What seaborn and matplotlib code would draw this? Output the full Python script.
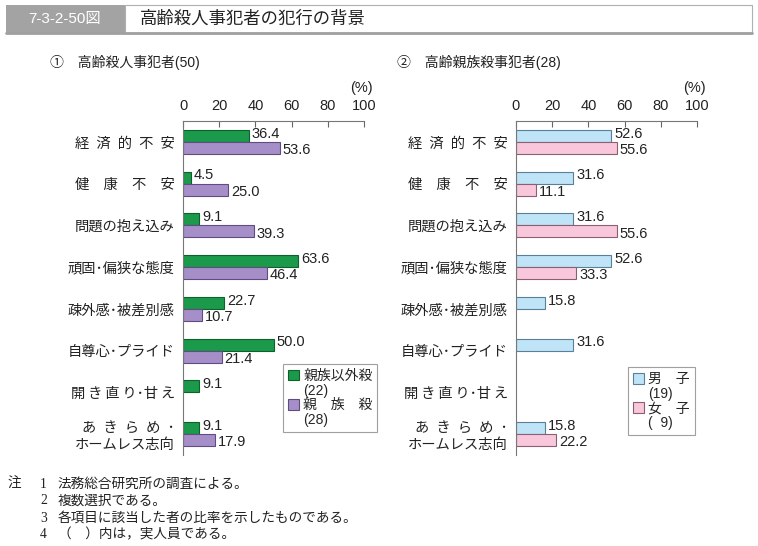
import matplotlib

matplotlib.use("Agg")
import matplotlib.pyplot as plt
import numpy as np
import pandas as pd
import seaborn as sns
from matplotlib.lines import Line2D
from matplotlib.patches import Patch, Rectangle

# Data
ITEMS = [
    "経\u2002済\u2002的\u2002不\u2002安",
    "健\u3000康\u3000不\u3000安",
    "問題の抱え込み",
    "頑固･偏狭な態度",
    "疎外感･被差別感",
    "自尊心･プライド",
    "開\u2009き\u2009直\u2009り･甘\u2009え",
    "あ\u2002き\u2002ら\u2002め\u2002･\nホームレス志向",
]
NONKIN = [36.4, 4.5, 9.1, 63.6, 22.7, 50.0, 9.1, 9.1]
KIN = [53.6, 25.0, 39.3, 46.4, 10.7, 21.4, np.nan, 17.9]
MALE = [52.6, 31.6, 31.6, 52.6, 15.8, 31.6, np.nan, 15.8]
FEMALE = [55.6, 11.1, 55.6, 33.3, np.nan, np.nan, np.nan, 22.2]

LEFT_GROUPS = ["親族以外殺", "親\u3000族\u3000殺"]
LEFT_COUNTS = ["(22)", "(28)"]
RIGHT_GROUPS = ["男\u3000子", "女\u3000子"]
RIGHT_COUNTS = ["(19)", "(\u20079)"]
LEFT_COLORS = ["#1b9a4b", "#a68fc9"]
LEFT_EDGES = ["#10602e", "#5f4d80"]
RIGHT_COLORS = ["#bfe4f8", "#f8c7dc"]
RIGHT_EDGES = ["#5a7f99", "#8c5f70"]

FIG_TITLE_NO = "7-3-2-50図"
FIG_TITLE = "高齢殺人事犯者の犯行の背景"
LEFT_TITLE = "①\u3000高齢殺人事犯者(50)"
RIGHT_TITLE = "②\u3000高齢親族殺事犯者(28)"
NOTES = [
    "法務総合研究所の調査による。",
    "複数選択である。",
    "各項目に該当した者の比率を示したものである。",
    "（\u3000）内は，実人員である。",
]

W, H = 758, 546

sns.set_style("white")
plt.rcParams["font.family"] = ["Liberation Sans", "Noto Sans CJK JP", "DejaVu Sans"]


def px(x, y):
    """Convert pixel position (from top-left) to figure fraction."""
    return x / W, 1 - y / H


def draw_panel(ax, values, groups, counts, colors, edges, legend_anchor):
    df = pd.DataFrame(
        {
            "item": ITEMS * 2,
            "group": [groups[0]] * len(ITEMS) + [groups[1]] * len(ITEMS),
            "value": list(values[0]) + list(values[1]),
        }
    ).dropna()

    sns.barplot(
        data=df,
        x="value",
        y="item",
        hue="group",
        order=ITEMS,
        hue_order=groups,
        palette=dict(zip(groups, colors)),
        orient="h",
        width=0.58,
        saturation=1,
        linewidth=0.8,
        legend=False,
        ax=ax,
    )

    # Value labels: upper bar's label nudged up, lower bar's nudged down
    for container, edge, dy in zip(ax.containers, edges, [1.5, -1.5]):
        for bar in container:
            bar.set_edgecolor(edge)
        texts = ax.bar_label(container, fmt="%.1f", padding=2, fontsize=10.5, color="#222")
        for t in texts:
            t.xyann = (2, dy)

    ax.set_xlim(0, 100)
    ax.set_ylim(7.5, -0.5)
    ax.xaxis.tick_top()
    ax.set_xticks(range(0, 101, 20))
    ax.set_yticks(np.arange(-0.5, 8, 1), minor=True)
    ax.tick_params(axis="x", direction="in", length=4, pad=6, labelsize=10.5,
                   color="#666", labelcolor="#222")
    ax.tick_params(axis="y", which="major", length=0, pad=6, labelsize=10.3,
                   labelcolor="#222")
    ax.tick_params(axis="y", which="minor", direction="in", length=4, color="#666")
    ax.set_xlabel("")
    ax.set_ylabel("")
    for side in ["right", "bottom"]:
        ax.spines[side].set_visible(False)
    for side in ["top", "left"]:
        ax.spines[side].set_color("#777")
        ax.spines[side].set_linewidth(0.8)

    ax.text(1.05, 1.10, "(%)", transform=ax.transAxes, ha="right", va="center",
            fontsize=10.5, color="#222")

    # Legend: swatch next to the name, count on its own line below
    handles, labels = [], []
    for name, count, c, e in zip(groups, counts, colors, edges):
        handles += [Patch(facecolor=c, edgecolor=e, linewidth=0.8),
                    Patch(facecolor="none", edgecolor="none")]
        labels += [name, count]
    leg = ax.legend(
        handles,
        labels,
        loc="lower left",
        bbox_to_anchor=legend_anchor,
        frameon=True,
        fancybox=False,
        edgecolor="#888",
        fontsize=10,
        handlelength=0.8,
        handleheight=0.8,
        handletextpad=0.3,
        borderpad=0.35,
        labelspacing=0.05,
        borderaxespad=0,
    )
    leg.get_frame().set_linewidth(0.8)


fig = plt.figure(figsize=(W / 100, H / 100), dpi=100)

# Title bar
fig.add_artist(Rectangle(px(6, 33), 119 / W, 28 / H, transform=fig.transFigure,
                         facecolor="#a3a3a3", edgecolor="none"))
fig.add_artist(Rectangle(px(125, 33), 627 / W, 28 / H, transform=fig.transFigure,
                         facecolor="white", edgecolor="#b0b0b0", linewidth=0.8))
fig.add_artist(Line2D([6 / W, 752 / W], [1 - 33 / H, 1 - 33 / H],
                      transform=fig.transFigure, color="#a0a0a0", linewidth=2))
fig.text(*px(65, 19), FIG_TITLE_NO, color="white", fontsize=11, ha="center", va="center")
fig.text(*px(140, 19), FIG_TITLE, color="#222", fontsize=12.5, ha="left", va="center")

# Panel titles
fig.text(*px(50, 62), LEFT_TITLE, fontsize=10, ha="left", va="center", color="#222")
fig.text(*px(397, 62), RIGHT_TITLE, fontsize=10, ha="left", va="center", color="#222")

ax1 = fig.add_axes([183 / W, 91 / H, 181 / W, 334 / H])
ax2 = fig.add_axes([516 / W, 91 / H, 181 / W, 334 / H])

draw_panel(ax1, [NONKIN, KIN], LEFT_GROUPS, LEFT_COUNTS, LEFT_COLORS, LEFT_EDGES,
           (0.552, 0.069))
draw_panel(ax2, [MALE, FEMALE], RIGHT_GROUPS, RIGHT_COUNTS, RIGHT_COLORS, RIGHT_EDGES,
           (0.62, 0.06))

# Notes
serif = ["Liberation Serif", "Noto Sans CJK JP", "DejaVu Serif"]
fig.text(*px(8, 484), "注", fontsize=9.8, ha="left", va="center", family=serif, color="#222")
for i, note in enumerate(NOTES):
    y = 484 + i * 17
    fig.text(*px(40, y), str(i + 1), fontsize=9.8, ha="left", va="center", family=serif,
             color="#222")
    fig.text(*px(58, y), note, fontsize=9.8, ha="left", va="center", family=serif,
             color="#222")

fig.savefig("out.png", dpi=100)
plt.close(fig)
